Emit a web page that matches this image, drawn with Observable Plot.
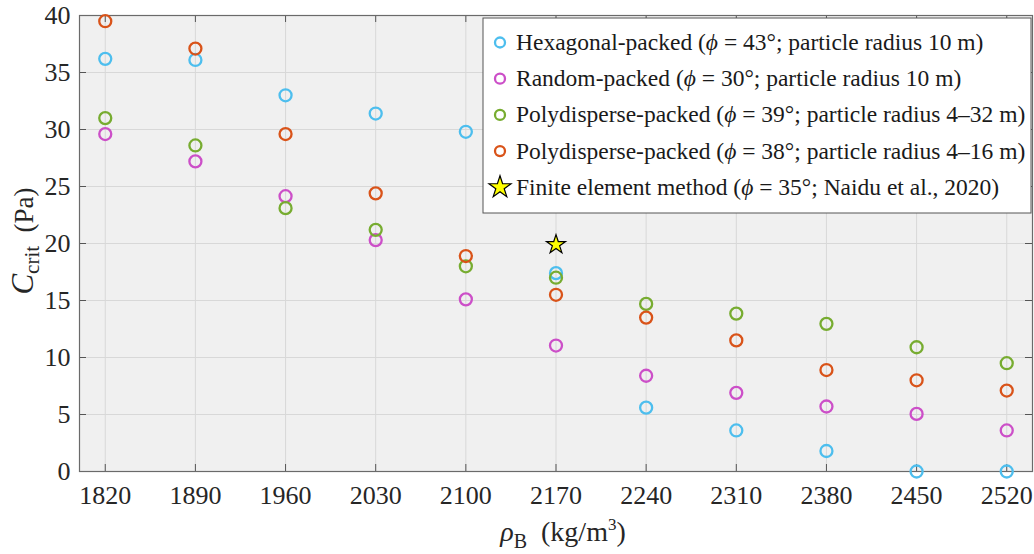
<!DOCTYPE html>
<html><head><meta charset="utf-8">
<script src="https://cdn.jsdelivr.net/npm/d3@7"></script>
<script src="https://cdn.jsdelivr.net/npm/@observablehq/plot@0.6"></script>
<style>body{margin:0;background:#fff;}</style>
</head><body><div id="chart"></div>
<script>
// ---- data ----
const density = [1820, 1890, 1960, 2030, 2100, 2170, 2240, 2310, 2380, 2450, 2520];
const hexagonal = [36.2, 36.1, 33.0, 31.4, 29.8, 17.4, 5.6, 3.6, 1.8, 0, 0];
const randomPacked = [29.6, 27.2, 24.15, 20.3, 15.1, 11.05, 8.4, 6.9, 5.7, 5.05, 3.6];
const poly39 = [31.0, 28.6, 23.1, 21.2, 18.0, 17.0, 14.7, 13.85, 12.95, 10.9, 9.5];
const poly38 = [39.5, 37.1, 29.6, 24.4, 18.9, 15.5, 13.5, 11.5, 8.9, 8.0, 7.1];
const femDensity = [2170];
const femValue = [19.9];
const yTicks = [0, 5, 10, 15, 20, 25, 30, 35, 40];

const seriesKeys = ["hex", "rand", "p39", "p38"];
const seriesValues = [hexagonal, randomPacked, poly39, poly38];
const seriesColors = ["#4DBEEE", "#CC4FC8", "#77AC30", "#D95319"];
const legendEntries = [
  {pre: "Hexagonal-packed (", post: " = 43°; particle radius 10 m)"},
  {pre: "Random-packed (", post: " = 30°; particle radius 10 m)"},
  {pre: "Polydisperse-packed (", post: " = 39°; particle radius 4–32 m)"},
  {pre: "Polydisperse-packed (", post: " = 38°; particle radius 4–16 m)"},
  {pre: "Finite element method (", post: " = 35°; Naidu et al., 2020)"}
];

const rows = seriesKeys.flatMap((k, i) => density.map((x, j) => ({series: k, x, y: seriesValues[i][j]})));
const fem = femDensity.map((x, i) => ({x, y: femValue[i]}));

const W = 1034, H = 554;
const mL = 79, mR = 2, mT = 15, mB = 83;
const pw = W - mL - mR, ph = H - mT - mB, tk = 7;
const font = "'Liberation Serif', 'Times New Roman', serif";
const plot = Plot.plot({
  width: W, height: H,
  marginLeft: mL, marginRight: mR, marginTop: mT, marginBottom: mB,
  style: {fontFamily: font, fontSize: "26px", color: "#262626", background: "white", overflow: "visible"},
  x: {type: "linear", domain: [1800, 2540]},
  y: {domain: [0, 40]},
  color: {domain: seriesKeys, range: seriesColors},
  marks: [
    Plot.frame({fill: "#f0f0f0", stroke: null}),
    Plot.gridX(density, {stroke: "#d8d8d8", strokeOpacity: 1}),
    Plot.gridY(yTicks, {stroke: "#d8d8d8", strokeOpacity: 1}),
    Plot.axisX(density, {anchor: "bottom", tickSize: 0, tickPadding: 14, tickFormat: d => String(d), label: null}),
    Plot.axisY(yTicks, {anchor: "left", tickSize: 0, tickPadding: 9, tickFormat: d => String(d), label: null}),
    // inward ticks on all four sides
    Plot.ruleX(density, {x: d => d, insetTop: ph - tk, stroke: "#555"}),
    Plot.ruleX(density, {x: d => d, insetBottom: ph - tk, stroke: "#555"}),
    Plot.ruleY(yTicks, {y: d => d, insetRight: pw - tk, stroke: "#555"}),
    Plot.ruleY(yTicks, {y: d => d, insetLeft: pw - tk, stroke: "#555"}),
    Plot.frame({stroke: "#6a6a6a", strokeWidth: 1.2}),
    Plot.dot(rows, {x: "x", y: "y", stroke: "series", r: 6, strokeWidth: 2.3, fill: "none"}),
    Plot.dot(fem, {x: "x", y: "y", symbol: "star", fill: "#FFFF00", stroke: "black", strokeWidth: 1.2, r: 6})
  ]
});
document.getElementById("chart").appendChild(plot);

const svg = d3.select(plot);
// axis labels
const xl = svg.append("text").attr("x", 563).attr("y", 541).attr("text-anchor", "middle")
  .attr("font-family", font).attr("font-size", 28).attr("fill", "#262626");
xl.append("tspan").attr("font-style", "italic").text("ρ");
xl.append("tspan").attr("font-size", 20).attr("dy", 7).text("B");
xl.append("tspan").attr("dy", -7).text("\u2002(kg/m");
xl.append("tspan").attr("font-size", 17).attr("dy", -11).text("3");
xl.append("tspan").attr("dy", 11).text(")");

const yl = svg.append("text").attr("transform", "translate(33,241) rotate(-90)").attr("text-anchor", "middle")
  .attr("font-family", font).attr("font-size", 27).attr("fill", "#262626");
yl.append("tspan").attr("font-style", "italic").attr("font-size", 31).text("C");
yl.append("tspan").attr("font-size", 21).attr("dy", 6).text("crit");
yl.append("tspan").attr("dy", -6).text("\u2002(Pa)");

// legend
const lg = svg.append("g").attr("font-family", font).attr("font-size", 23.5).attr("fill", "#1a1a1a")
  .attr("text-anchor", "start");
lg.append("rect").attr("x", 483).attr("y", 18).attr("width", 548).attr("height", 195)
  .attr("fill", "white").attr("stroke", "#555").attr("stroke-width", 1);
legendEntries.forEach((e, i) => {
  const base = 50 + i * 36.2;
  const cy = base - 7.5;
  if (i < 4) {
    lg.append("circle").attr("cx", 500).attr("cy", cy).attr("r", 5).attr("fill", "none")
      .attr("stroke", seriesColors[i]).attr("stroke-width", 2.3);
  } else {
    lg.append("path").attr("d", d3.symbol(d3.symbolStar, 150)()).attr("transform", `translate(500,${cy})`)
      .attr("fill", "#FFFF00").attr("stroke", "black").attr("stroke-width", 1.2);
  }
  const t = lg.append("text").attr("x", 516).attr("y", base).attr("text-anchor", "start");
  t.append("tspan").text(e.pre);
  t.append("tspan").attr("font-style", "italic").text("ϕ");
  t.append("tspan").text(e.post);
});
</script>
</body></html>
